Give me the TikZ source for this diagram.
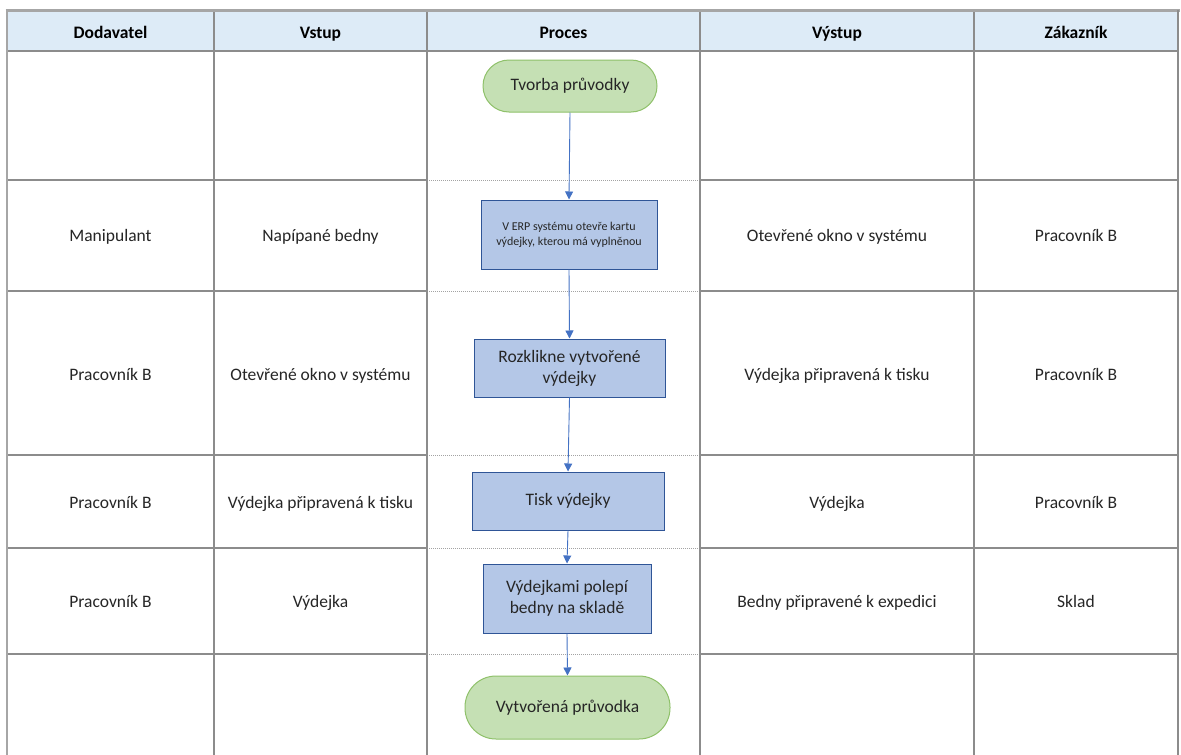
\documentclass[tikz,border=0pt]{standalone}
\usepackage{fontspec}
\setmainfont{Carlito}
\usetikzlibrary{arrows.meta}
\definecolor{gridgray}{HTML}{8C8C8C}
\definecolor{framegray}{HTML}{A6A6A6}
\definecolor{headfill}{HTML}{DDEBF7}
\definecolor{boxfill}{HTML}{B4C7E7}
\definecolor{boxdraw}{HTML}{2F5597}
\definecolor{termfill}{HTML}{C5E0B4}
\definecolor{termdraw}{HTML}{8FC16A}
\definecolor{flowblue}{HTML}{4472C4}
\definecolor{ink}{HTML}{262626}
\begin{document}
\begin{tikzpicture}[x=1pt,y=-1pt,
  font=\fontsize{17.5}{21}\selectfont, text=ink,
  gridline/.style={draw=gridgray, line width=1.4pt},
  dotline/.style={draw=gridgray!80, line width=1pt, dash pattern=on 1pt off 1pt},
  head/.style={font=\fontsize{17.5}{21}\selectfont\bfseries, text=black, text height=12pt, text depth=4pt},
  cell/.style={align=center, text height=12pt, text depth=4pt},
  stepbox/.style={draw=boxdraw, line width=1pt, fill=boxfill, inner sep=0pt, align=center},
  terminal/.style={draw=termdraw, line width=1pt, fill=termfill, inner sep=0pt, align=center},
  flow/.style={draw=flowblue, line width=0.9pt, -{Triangle[width=8pt,length=8pt]}}]
\useasboundingbox (0,0) rectangle (1181,755);
\fill[white] (0,0) rectangle (1181,755);

% header band
\fill[headfill] (7,10) rectangle (1178,51);

% horizontal rules: solid in the side columns, dotted across the process lane
\draw[gridline] (7,51) -- (1178,51);
\foreach \y in {180,291,455,548,654} {
  \draw[gridline] (7,\y) -- (427,\y);
  \draw[gridline] (700,\y) -- (1178,\y);
  \draw[dotline] (427,\y) -- (700,\y);
}
% column rules
\foreach \x in {214,427,700,974} {
  \draw[gridline] (\x,10) -- (\x,755);
}
% outer frame
\draw[draw=framegray, line width=3pt] (5.5,10) -- (1179.5,10);
\draw[draw=framegray, line width=2.2pt] (7,10) -- (7,755);
\draw[draw=gridgray, line width=2.6pt] (1178,10) -- (1178,755);

% header texts
\node[head] (hDod) at (110.5,34) {Dodavatel};
\node[head] (hVst) at (320.5,34) {Vstup};
\node[head] (hPro) at (563.5,34) {Proces};
\node[head] (hVys) at (837,34) {Výstup};
\node[head] (hZak) at (1076,34) {Zákazník};

% row 2
\node[cell] (d2) at (110.5,237.5) {Manipulant};
\node[cell] (v2) at (320.5,237.5) {Napípané bedny};
\node[cell] (o2) at (837,237.5) {Otevřené okno v systému};
\node[cell] (z2) at (1076,237.5) {Pracovník B};
% row 3
\node[cell] (d3) at (110.5,376) {Pracovník B};
\node[cell] (v3) at (320.5,376) {Otevřené okno v systému};
\node[cell] (o3) at (837,376) {Výdejka připravená k tisku};
\node[cell] (z3) at (1076,376) {Pracovník B};
% row 4
\node[cell] (d4) at (110.5,504) {Pracovník B};
\node[cell] (v4) at (320.5,504) {Výdejka připravená k tisku};
\node[cell] (o4) at (837,504) {Výdejka};
\node[cell] (z4) at (1076,504) {Pracovník B};
% row 5
\node[cell] (d5) at (110.5,603) {Pracovník B};
\node[cell] (v5) at (320.5,603) {Výdejka};
\node[cell] (o5) at (837,603) {Bedny připravené k expedici};
\node[cell] (z5) at (1076,603) {Sklad};

% process flow
\node[terminal, rounded corners=26pt, minimum width=174pt, minimum height=52pt] (start) at (570,86) {Tvorba průvodky};
\node[stepbox, minimum width=176pt, minimum height=69pt, font=\fontsize{12}{15}\selectfont] (erp) at (569,234.5)
  {V ERP systému otevře kartu\\výdejky, kterou má vyplněnou};
\node[stepbox, minimum width=191pt, minimum height=58pt] (open) at (569.5,368) {Rozklikne vytvořené\\výdejky};
\node[stepbox, minimum width=192pt, minimum height=58pt] (print) at (568,501) {Tisk výdejky};
\node[stepbox, minimum width=168pt, minimum height=69pt] (stick) at (567,598.5) {Výdejkami polepí\\bedny na skladě};
\node[terminal, rounded corners=31pt, minimum width=205pt, minimum height=63pt] (end) at (567.5,707.5) {Vytvořená průvodka};

\draw[flow] (start.south) -- (erp.north);
\draw[flow] (erp.south) -- (open.north);
\draw[flow] (open.south) -- (print.north);
\draw[flow] (print.south) -- (stick.north);
\draw[flow] (stick.south) -- (end.north);
\end{tikzpicture}
\end{document}
